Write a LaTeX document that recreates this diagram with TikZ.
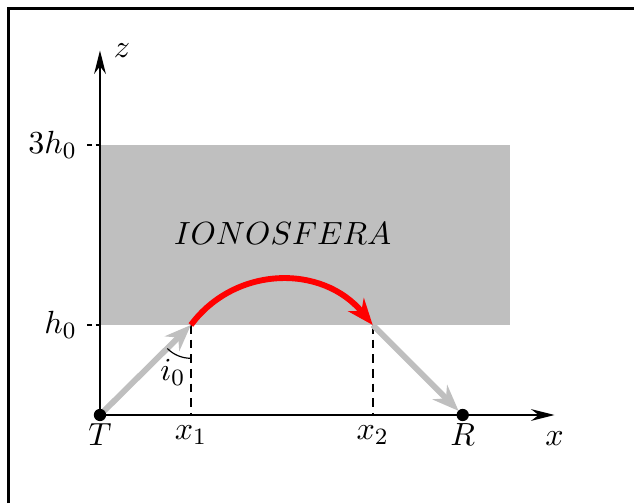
\documentclass[tikz,border=0pt]{standalone}
\usetikzlibrary{arrows.meta}
\tikzset{
  eixo/.style={line width=0.8pt, -{Stealth[length=8pt,width=4pt]}},
  raio/.style={line width=2pt, gray!50, -{Stealth[length=9pt,width=7pt]}},
  guia/.style={densely dashed, semithick},
  marca/.style={dash pattern=on 1.6pt off 1.2pt, semithick},
  ponto/.style={circle, fill, inner sep=0pt, minimum size=4.2pt},
}
\begin{document}
\begin{tikzpicture}[x=1.08cm, y=1.08cm, font=\fontsize{11.3}{13.5}\selectfont]
    \useasboundingbox (-1.111,-0.978) rectangle (5.933,4.611);
    % moldura
    \draw[line width=1pt] (-1.02,-0.978) -- (-1.02,4.52) -- (5.933,4.52);
    % ionosfera
    \fill[gray!50] (0,1) rectangle (4.55,3);
    \node at (2.03,2.02) {$IONOSFERA$};
    % eixos
    \coordinate (O) at (0,0);
    \coordinate (xfim) at (5.05,0);
    \coordinate (zfim) at (0,4.05);
    \draw[eixo] (O) -- (xfim) node[below=2pt] {$x$};
    \draw[eixo] (O) -- (zfim) node[right=1pt] {$z$};
    \draw[marca] (-0.14,1) -- (0,1) node[pos=0,left] {$h_0$};
    \draw[marca] (-0.14,3) -- (0,3) node[pos=0,left] {$3h_0$};
    % pontos
    \coordinate (P1) at (1.01,1);
    \coordinate (P2) at (3.03,1);
    \coordinate (X1) at (1.01,0);
    \coordinate (X2) at (3.03,0);
    \coordinate (T) at (0,0);
    \coordinate (R) at (4.03,0);
    \draw[guia] (P1) -- (X1) node[below] {$x_1$};
    \draw[guia] (P2) -- (X2) node[below] {$x_2$};
    % raios
    \draw[raio] (T) -- (P1);
    \draw[raio, shorten >=2pt] (P2) -- (R);
    \draw[line width=2pt, red, -{Stealth[length=9pt,width=7pt]}] (P1) .. controls (1.5,1.66) and (2.47,1.68) .. (P2);
    \node[ponto, label={[yshift=3pt]below:$T$}] at (T) {};
    \node[ponto, label={[yshift=3pt]below:$R$}] at (R) {};
    % angulo
    \draw (1.01,0.63) arc (270:225:0.37);
    \node at (0.81,0.47) {$i_0$};
\end{tikzpicture}
\end{document}
